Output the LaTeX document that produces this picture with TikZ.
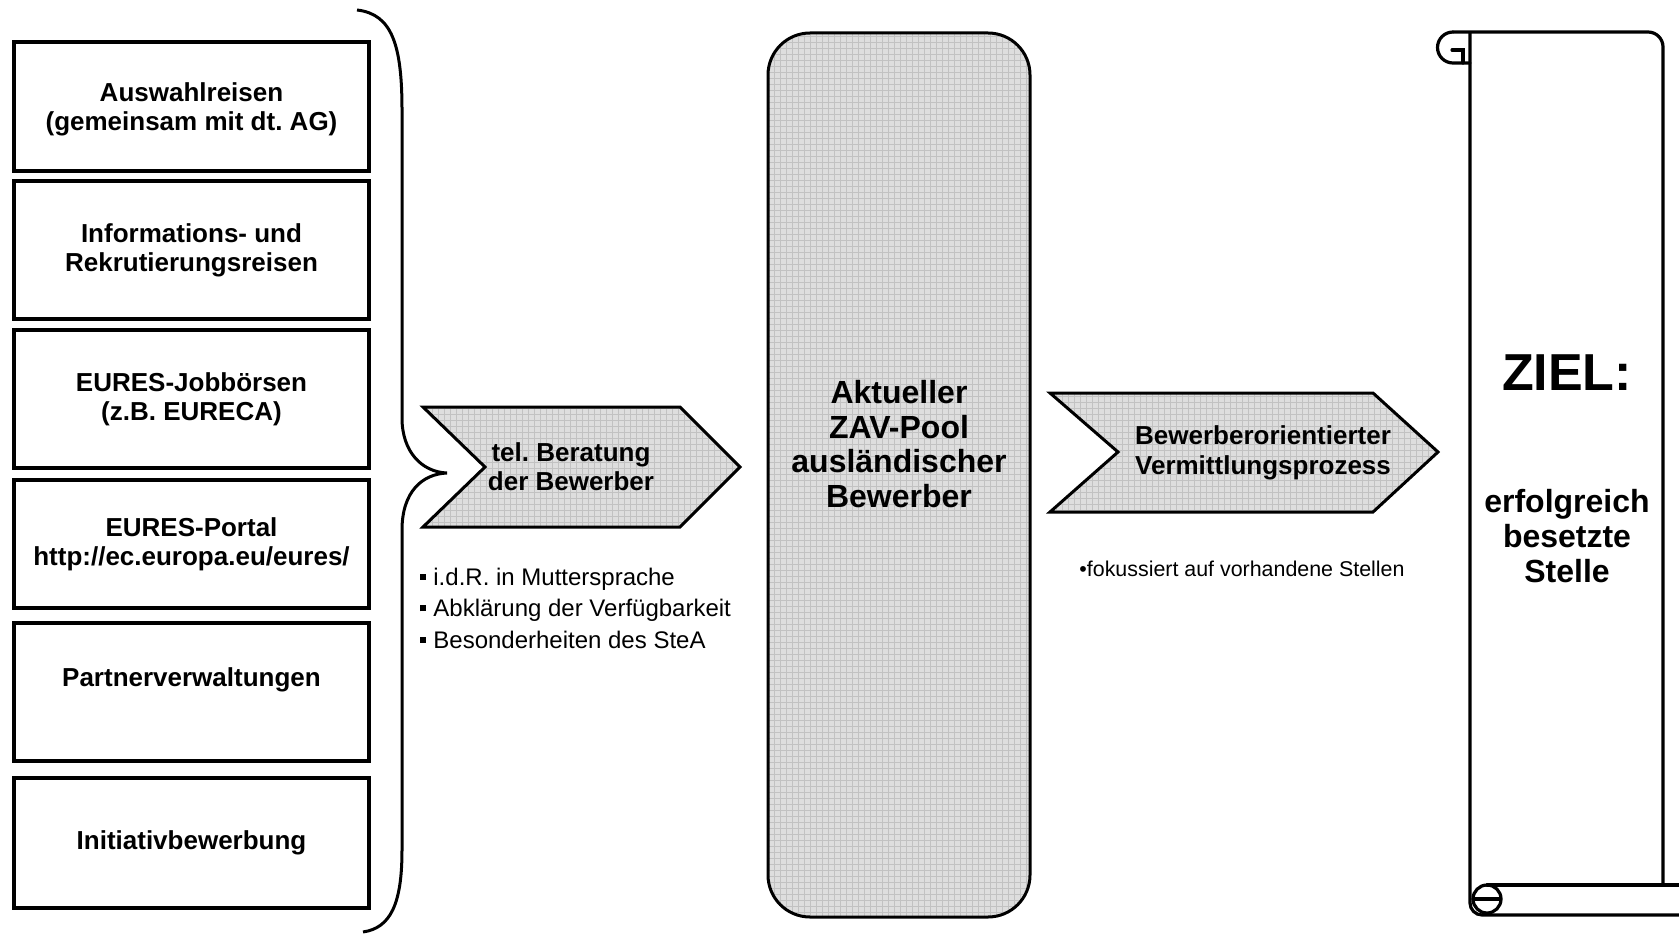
\documentclass[tikz,border=0pt]{standalone}
\usepackage{fontspec}
\setmainfont{Liberation Sans}
\usetikzlibrary{patterns}
\frenchspacing

\newcommand{\punkt}{\rule[0.22em]{3pt}{3pt}\hspace{3.5pt}}

\begin{document}
\begin{tikzpicture}[x=0.5pt, y=-0.5pt,
    quelle/.style={rectangle, draw, line width=1.6pt, minimum width=177.5pt, inner sep=0pt, align=center, font=\fontsize{13}{14.5}\selectfont\bfseries},
    raster/.style={preaction={fill=black!13}, pattern=grid, pattern color=black!24, draw, line width=1.5pt},
    fett/.style={align=center, inner sep=0pt, font=\fontsize{13}{14.5}\selectfont\bfseries},
    gross/.style={align=center, inner sep=0pt, font=\fontsize{16}{17.3}\selectfont\bfseries},
    rolle/.style={line width=1.6pt, line cap=round}]

  % Variables
  \def \boxx {191.5}

  \useasboundingbox (0,0) rectangle (1679,936);

  % Left boxes
  \node[quelle, minimum height=64.5pt] (auswahl) at (\boxx,106.5) {\raisebox{-1.5pt}[\height][\depth]{Auswahlreisen}\\\raisebox{-1.5pt}[\height][\depth]{(gemeinsam mit dt. AG)}};
  \node[quelle, minimum height=69pt] (info) at (\boxx,250) {Informations- und\\Rekrutierungsreisen};
  \node[quelle, minimum height=69pt] (jobboerse) at (\boxx,399) {EURES-Jobbörsen\\(z.B. EURECA)};
  \node[quelle, minimum height=64pt] (portal) at (\boxx,544) {EURES-Portal\\http://ec.europa.eu/eures/};
  \node[quelle, minimum height=69pt] (partner) at (\boxx,692) {\raisebox{6pt}[\height][\depth]{Partnerverwaltungen}};
  \node[quelle, minimum height=65pt] (initiativ) at (\boxx,843) {Initiativbewerbung};

  % Brace
  \draw[line width=1.5pt] (357,10) .. controls (392,14) and (402,45) .. (402,110) -- (402,418)
    .. controls (402,452) and (422,472) .. (447,473)
    .. controls (422,474) and (402,492) .. (402,530) -- (402,850)
    .. controls (402,905) and (390,928) .. (363,932);

  % Chevrons
  \draw[raster] (423,407) -- (680,407) -- (740,467) -- (680,527) -- (423,527) -- (485,467) -- cycle;
  \node[fett] (beratung) at (571,467) {tel. Beratung\\der Bewerber};
  \draw[raster] (1050,393) -- (1373,393) -- (1438,452) -- (1373,512) -- (1050,512) -- (1118,452) -- cycle;
  \node[fett, font=\fontsize{13}{15}\selectfont\bfseries] (prozess) at (1263,453) {Bewerberorientierter\\Vermittlungsprozess};

  % Pool
  \draw[raster, rounded corners=21pt] (768,33) rectangle (1030,917);
  \node[gross] (pool) at (899,444) {Aktueller\\ZAV-Pool\\ausländischer\\Bewerber};

  % Notes
  \node[anchor=west, align=left, inner sep=0pt, font=\fontsize{12}{15.75}\selectfont] (hinweise) at (420,608)
    {\punkt i.d.R. in Muttersprache\\\punkt Abklärung der Verfügbarkeit\\\punkt Besonderheiten des SteA};
  \node[anchor=west, inner sep=0pt, font=\fontsize{10.7}{13}\selectfont] (fokus) at (1079,569) {\textbullet fokussiert auf vorhandene Stellen};

  % Scroll
  \draw[rolle, rounded corners=7.5pt] (1453,32) -- (1663,32) -- (1663,883);
  \draw[rolle] (1470,63) -- (1453,63) arc[start angle=90, end angle=270, radius=15.5];
  \draw[rolle] (1452,50) -- (1463,50) -- (1463,63);
  \draw[rolle, rounded corners=6pt] (1470,33) -- (1470,915) -- (1679,915);
  \draw[rolle] (1487,885) -- (1679,885);
  \draw[rolle] (1487,899) circle[radius=7pt];
  \draw[rolle] (1475,899) -- (1500,899);

  \node[font=\fontsize{26}{28}\selectfont\bfseries] (ziel) at (1567,373) {ZIEL:};
  \node[gross] (stelle) at (1567,536) {erfolgreich\\besetzte\\Stelle};

\end{tikzpicture}
\end{document}
